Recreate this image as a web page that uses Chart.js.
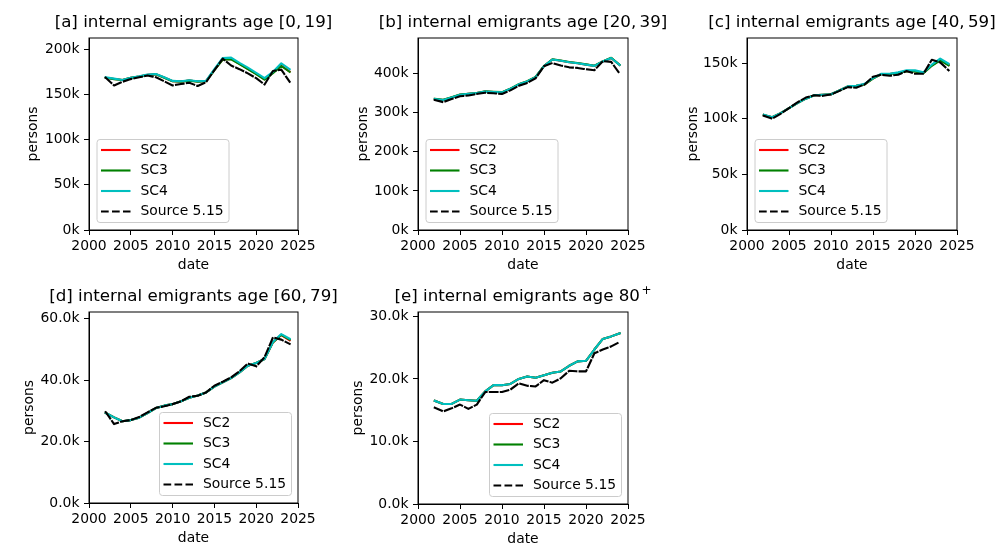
<!DOCTYPE html>
<html>
<head>
<meta charset="utf-8">
<script src="https://cdn.jsdelivr.net/npm/chart.js@4.4.1/dist/chart.umd.min.js"></script>
<style>
  body { margin: 0; background: #fff; width: 997px; height: 548px; position: relative; overflow: hidden; }
  canvas { position: absolute; left: 0; top: 0; }
</style>
</head>
<body>
<canvas id="pa" width="997" height="548"></canvas>
<canvas id="pb" width="997" height="548"></canvas>
<canvas id="pc" width="997" height="548"></canvas>
<canvas id="pd" width="997" height="548"></canvas>
<canvas id="pe" width="997" height="548"></canvas>
<script>
// --- data -----------------------------------------------------------------
const years = [2002, 2003, 2004, 2005, 2006, 2007, 2008, 2009, 2010, 2011, 2012,
  2013, 2014, 2015, 2016, 2017, 2018, 2019, 2020, 2021, 2022, 2023, 2024];

// [a] age [0,19]
const sc2A = [168600, 167100, 166000, 168500, 169900, 171700, 172400, 168700, 164700, 164300, 165400, 164300,
  164700, 177200, 188800, 189300, 183800, 178300, 172800, 166800, 174000, 182000, 175500];
const sc3A = [168500, 167000, 166000, 168400, 169800, 171600, 172300, 168600, 164600, 164200, 165300, 164200,
  164600, 177000, 188500, 189000, 183500, 178000, 172500, 166500, 173500, 181500, 175000];
const sc4A = [169000, 167500, 166000, 168600, 170000, 172000, 172700, 169000, 165000, 164600, 165700, 164600,
  165000, 178000, 190400, 190800, 185000, 179700, 174000, 168000, 175000, 184500, 178000];
const srcA = [168600, 160000, 164000, 167000, 169000, 171000, 169000, 164600, 160000, 161600, 163000, 159400,
  163500, 177000, 189700, 182000, 178000, 173400, 168000, 161000, 176000, 177500, 164000];

// [b] age [20,39]
const sc2B = [335000, 332500, 339000, 346000, 348000, 350000, 354000, 353000, 352000, 361000, 372600, 380000,
  391000, 419000, 436000, 433000, 429000, 426500, 423000, 419700, 430800, 440000, 422000];
const sc3B = [335500, 333000, 339500, 346500, 348500, 350500, 354500, 353500, 352500, 361500, 373000, 380500,
  391500, 419500, 436500, 433500, 429500, 427000, 423500, 420000, 431300, 440500, 422500];
const sc4B = [335000, 332500, 339000, 346000, 348000, 350000, 354000, 353000, 352000, 361000, 372600, 380000,
  391000, 419000, 436000, 433000, 429000, 426500, 423000, 419700, 430800, 440000, 422000];
const srcB = [332500, 327000, 335000, 342000, 344000, 348000, 351000, 349600, 348000, 357000, 369000, 376000,
  388000, 419000, 427000, 420500, 416000, 414500, 411000, 408500, 431600, 430000, 400000];

// [c] age [40,59]
const sc2C = [103400, 101300, 105000, 109500, 114000, 118000, 121000, 121400, 121900, 125300, 128900, 129500,
  130900, 136200, 140200, 140200, 141300, 142800, 142700, 141000, 147800, 152800, 148300];
const sc3C = [103400, 101300, 105000, 109500, 114000, 118000, 121000, 121400, 121900, 125300, 128900, 129500,
  130800, 136000, 140100, 140100, 141200, 142600, 142500, 140800, 147500, 152500, 148000];
const sc4C = [103500, 101400, 105000, 109500, 114000, 118000, 121000, 121500, 122000, 125400, 129000, 129600,
  131400, 136500, 140400, 140400, 141600, 143400, 143400, 141600, 148500, 154000, 149400];
const srcC = [102600, 100000, 104400, 109500, 114600, 119000, 121000, 120600, 121800, 125000, 128400, 127800,
  130800, 137700, 139500, 138600, 139500, 142800, 140400, 140400, 153000, 150600, 143400];

// [d] age [60,79]
const sc2D = [29300, 27900, 26600, 27000, 27800, 29300, 30900, 31700, 32200, 33100, 34300, 35000,
  36000, 37900, 39300, 40700, 42500, 44700, 45600, 46900, 52300, 54700, 53000];
const sc3D = [29300, 27900, 26600, 27000, 27800, 29300, 30900, 31700, 32200, 33100, 34300, 35000,
  36000, 37900, 39300, 40700, 42500, 44700, 45600, 46900, 52300, 54800, 53200];
const sc4D = [29300, 27900, 26600, 27000, 27800, 29300, 30900, 31700, 32200, 33100, 34300, 35000,
  36000, 37900, 39300, 40700, 42500, 44700, 45600, 46900, 52400, 55000, 53500];
const srcD = [29600, 25700, 26600, 27000, 28000, 29500, 31000, 31500, 32200, 33100, 34600, 34900,
  36000, 38200, 39500, 40900, 42900, 45400, 44500, 47500, 53900, 53200, 51800];

// [e] age 80+
const sc2E = [16500, 16000, 16000, 16700, 16600, 16500, 18000, 19000, 19000, 19200, 20000, 20400,
  20200, 20600, 21000, 21200, 22100, 22800, 22900, 24700, 26400, 26800, 27300];
const sc3E = [16500, 16000, 16000, 16700, 16600, 16500, 18000, 19000, 19000, 19200, 20000, 20400,
  20200, 20600, 21000, 21200, 22100, 22800, 22900, 24700, 26400, 26800, 27300];
const sc4E = [16500, 16000, 16000, 16700, 16600, 16500, 18000, 19000, 19000, 19200, 20000, 20400,
  20200, 20600, 21000, 21200, 22100, 22800, 22900, 24700, 26400, 26800, 27300];
const srcE = [15400, 14800, 15300, 15900, 15200, 15900, 17900, 17900, 17900, 18300, 19300, 18900,
  18800, 19800, 19400, 20100, 21300, 21200, 21200, 24100, 24700, 25200, 25900];

const xTicks = [2000, 2005, 2010, 2015, 2020, 2025];
const yTicksA = [0, 50000, 100000, 150000, 200000];
const yTicksB = [0, 100000, 200000, 300000, 400000];
const yTicksC = [0, 50000, 100000, 150000];
const yTicksD = [0, 20000, 40000, 60000];
const yTicksE = [0, 10000, 20000, 30000];

const titles = [
  '[a] internal emigrants age [0,\u200919]',
  '[b] internal emigrants age [20,\u200939]',
  '[c] internal emigrants age [40,\u200959]',
  '[d] internal emigrants age [60,\u200979]',
  '[e] internal emigrants age 80\u207A',
];

// --- drawing --------------------------------------------------------------
const FONT = "'DejaVu Sans', sans-serif";
const W = 997, H = 548;

const pts = (vals) => vals.map((v, i) => ({ x: years[i], y: v }));

function drawTitle(ctx, text, cx, y) {
  ctx.font = `16.7px ${FONT}`;
  ctx.textBaseline = 'alphabetic';
  if (!text.endsWith('\u207A')) {
    ctx.textAlign = 'center';
    ctx.fillText(text, cx, y);
    return;
  }
  // mathtext-like superscript plus
  const base = text.slice(0, -1);
  const bw = ctx.measureText(base).width;
  ctx.font = `12px ${FONT}`;
  const sw = ctx.measureText('+').width;
  const x0 = cx - (bw + sw + 1.5) / 2;
  ctx.textAlign = 'left';
  ctx.font = `16.7px ${FONT}`;
  ctx.fillText(base, x0, y);
  ctx.font = `12px ${FONT}`;
  ctx.fillText('+', x0 + bw + 1.5, y - 7);
}

// frame, title, axis titles and the in-axes legend, matplotlib style
const decor = {
  id: 'decor',
  afterDraw(chart, args, o) {
    const { ctx, chartArea: a } = chart;
    ctx.save();
    ctx.strokeStyle = '#000';
    ctx.lineWidth = 1;
    ctx.strokeRect(a.left, a.top, a.right - a.left, a.bottom - a.top);

    ctx.fillStyle = '#000';
    drawTitle(ctx, o.title, (a.left + a.right) / 2, a.top - 11);

    ctx.font = `13.9px ${FONT}`;
    ctx.textAlign = 'center';
    ctx.textBaseline = 'middle';
    ctx.fillText('date', (a.left + a.right) / 2, a.bottom + 35);
    ctx.save();
    ctx.translate(a.left - o.yTitleOff, (a.top + a.bottom) / 2);
    ctx.rotate(-Math.PI / 2);
    ctx.fillText('persons', 0, 0);
    ctx.restore();

    // legend
    const w = 132, h = 83;
    const bx = o.legend === 'lr' ? a.right - 7 - w : a.left + 7.5;
    const by = a.bottom - 8 - h;
    ctx.beginPath();
    ctx.roundRect(bx + 0.5, by + 0.5, w, h, 3);
    ctx.fillStyle = 'rgba(255,255,255,0.8)';
    ctx.fill();
    ctx.strokeStyle = '#cccccc';
    ctx.stroke();
    ctx.textAlign = 'left';
    chart.data.datasets.forEach((ds, i) => {
      const y = by + 11 + i * 20.5;
      ctx.beginPath();
      ctx.strokeStyle = ds.borderColor;
      ctx.lineWidth = ds.borderWidth;
      ctx.setLineDash(ds.borderDash || []);
      ctx.moveTo(bx + 4.5, y);
      ctx.lineTo(bx + 34, y);
      ctx.stroke();
      ctx.setLineDash([]);
      ctx.fillStyle = '#000';
      ctx.fillText(ds.label, bx + 44, y);
    });
    ctx.restore();
  },
};

// lay.box = [left, top, right, bottom] of the plot area on the page
function makePanel(id, s2, s3, s4, src, yTicks, yMax, fmt, lay) {
  const line = (label, data, color, order, dash) => ({
    label, data: pts(data), borderColor: color, backgroundColor: color,
    borderWidth: 2.1, pointRadius: 0, tension: 0, fill: false, order,
    borderDash: dash, borderCapStyle: 'square', borderJoinStyle: 'round',
  });
  const tickFont = { family: FONT, size: 13.9 };
  const [l, t, r, b] = lay.box;
  const yw = 60, xh = 40;
  return new Chart(document.getElementById(id), {
    type: 'line',
    data: {
      datasets: [
        line('SC2', s2, '#ff0000', 4),
        line('SC3', s3, '#008000', 3),
        line('SC4', s4, '#00bfbf', 2),
        line('Source 5.15', src, '#000000', 1, [7.7, 3.3]),
      ],
    },
    options: {
      responsive: false,
      animation: false,
      layout: { padding: { top: t, right: W - r, left: l - yw, bottom: H - b - xh } },
      plugins: {
        legend: { display: false },
        tooltip: { enabled: false },
        decor: { title: lay.title, legend: lay.legend, yTitleOff: lay.yTitleOff },
      },
      scales: {
        x: {
          type: 'linear', min: 2000, max: 2025,
          afterBuildTicks: (s) => { s.ticks = xTicks.map((v) => ({ value: v })); },
          afterFit: (s) => { s.height = xh; },
          grid: { drawOnChartArea: false, tickLength: 5, color: '#000' },
          border: { color: '#000' },
          ticks: { color: '#000', font: tickFont, padding: 3, maxRotation: 0, autoSkip: false,
            callback: (v) => String(v) },
        },
        y: {
          type: 'linear', min: 0, max: yMax,
          afterBuildTicks: (s) => { s.ticks = yTicks.map((v) => ({ value: v })); },
          afterFit: (s) => { s.width = yw; },
          grid: { drawOnChartArea: false, tickLength: 5, color: '#000' },
          border: { color: '#000' },
          ticks: { color: '#000', font: tickFont, padding: 4.5, callback: fmt },
        },
      },
    },
    plugins: [decor],
  });
}

const kInt = (v) => (v / 1000) + 'k';
const kOne = (v) => (v / 1000).toFixed(1) + 'k';

makePanel('pa', sc2A, sc3A, sc4A, srcA, yTicksA, 212500, kInt,
  { box: [89, 38, 298, 230], title: titles[0], legend: 'll', yTitleOff: 56 });
makePanel('pb', sc2B, sc3B, sc4B, srcB, yTicksB, 491000, kInt,
  { box: [418, 38, 628, 230], title: titles[1], legend: 'll', yTitleOff: 55 });
makePanel('pc', sc2C, sc3C, sc4C, srcC, yTicksC, 172500, kInt,
  { box: [747, 38, 957, 230], title: titles[2], legend: 'll', yTitleOff: 54 });
makePanel('pd', sc2D, sc3D, sc4D, srcD, yTicksD, 62200, kOne,
  { box: [89, 312, 298, 503], title: titles[3], legend: 'lr', yTitleOff: 60 });
makePanel('pe', sc2E, sc3E, sc4E, srcE, yTicksE, 30700, kOne,
  { box: [418, 312, 628, 504], title: titles[4], legend: 'lr', yTitleOff: 60 });
</script>
</body>
</html>
